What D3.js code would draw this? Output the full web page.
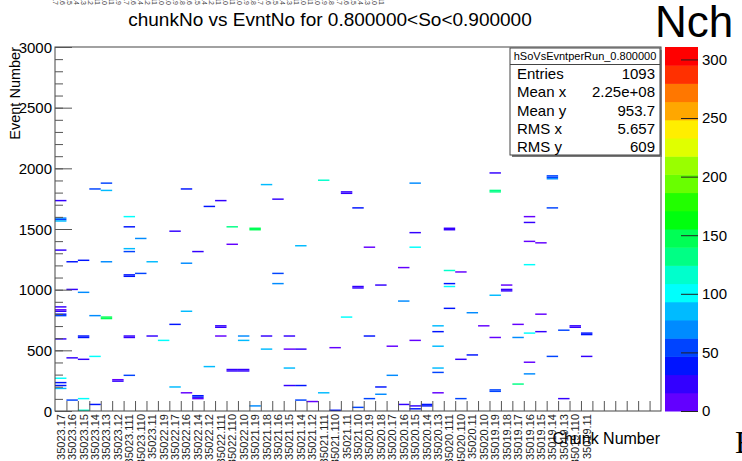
<!DOCTYPE html>
<html>
<head>
<meta charset="utf-8">
<script src="https://cdn.jsdelivr.net/npm/d3@7"></script>
<style>
  body { margin: 0; background: #fff; }
  svg { display: block; font-family: "Liberation Sans", Arial, sans-serif; }
</style>
</head>
<body>
<svg id="chart" width="742" height="461"></svg>
<script>
// x categories (run.chunk), 6 trailing empty bins
const chunkLabels = [
  "35023.17", "35023.16", "35023.15", "35023.14", "35023.13", "35023.12", "35023.111", "35023.110", "35023.11",
  "35022.19", "35022.17", "35022.16", "35022.14", "35022.12", "35022.111", "35022.110", "35022.10",
  "35021.19", "35021.18", "35021.16", "35021.15", "35021.14", "35021.12", "35021.111", "35021.110", "35021.11", "35021.10",
  "35020.19", "35020.18", "35020.17", "35020.16", "35020.15", "35020.14", "35020.13", "35020.111", "35020.110", "35020.11", "35020.10",
  "35019.19", "35019.18", "35019.17", "35019.16", "35019.15", "35019.14", "35019.13", "35019.110", "35019.11",
  "", "", "", "", "", ""
];

// filled cells: [chunk, event number, Nch]
const cells = [
  ["35023.17", 1728, 23], ["35023.17", 1590, 70], ["35023.17", 1578, 54], ["35023.17", 1566, 85], ["35023.17", 1327, 23],
  ["35023.17", 854, 23], ["35023.17", 838, 8], ["35023.17", 821, 23], ["35023.17", 797, 39], ["35023.17", 785, 54],
  ["35023.17", 591, 23], ["35023.17", 264, 101], ["35023.17", 228, 39], ["35023.17", 215, 39], ["35023.17", 190, 85],
  ["35023.16", 1225, 39], ["35023.16", 997, 23], ["35023.16", 434, 23], ["35023.16", 85, 54],
  ["35023.15", 1238, 39], ["35023.15", 975, 70], ["35023.15", 615, 39], ["35023.15", 605, 39], ["35023.15", 420, 23],
  ["35023.15", 104, 101], ["35023.15", 8, 116],
  ["35023.14", 1829, 54], ["35023.14", 791, 70], ["35023.14", 453, 101], ["35023.14", 49, 39],
  ["35023.13", 1881, 54], ["35023.13", 1813, 85], ["35023.13", 1228, 70], ["35023.13", 772, 147], ["35023.13", 760, 147],
  ["35023.12", 256, 8], ["35023.12", 244, 23],
  ["35023.111", 1607, 101], ["35023.111", 1516, 39], ["35023.111", 1340, 85], ["35023.111", 1318, 54],
  ["35023.111", 1118, 39], ["35023.111", 1106, 39], ["35023.111", 618, 23], ["35023.111", 606, 23], ["35023.111", 294, 54],
  ["35023.110", 1426, 70], ["35023.110", 1131, 54],
  ["35023.11", 1225, 85], ["35023.11", 618, 23],
  ["35022.19", 579, 101],
  ["35022.17", 1486, 23], ["35022.17", 714, 39], ["35022.17", 200, 85],
  ["35022.16", 1827, 39], ["35022.16", 1220, 70], ["35022.16", 816, 85], ["35022.16", 146, 8],
  ["35022.14", 1313, 23], ["35022.14", 128, 39], ["35022.14", 118, 39], ["35022.14", 105, 8],
  ["35022.12", 1683, 39], ["35022.12", 365, 85],
  ["35022.111", 1730, 23], ["35022.111", 700, 23], ["35022.111", 688, 23], ["35022.111", 612, 8],
  ["35022.110", 1516, 132], ["35022.110", 1370, 8], ["35022.110", 336, 23], ["35022.110", 324, 23],
  ["35022.10", 615, 70], ["35022.10", 582, 85], ["35022.10", 336, 23], ["35022.10", 324, 23],
  ["35021.19", 1506, 147], ["35021.19", 1494, 147], ["35021.19", 41, 70],
  ["35021.18", 1862, 85], ["35021.18", 618, 23], ["35021.18", 513, 85],
  ["35021.16", 1747, 23], ["35021.16", 1129, 54], ["35021.16", 1052, 70],
  ["35021.15", 612, 23], ["35021.15", 508, 8], ["35021.15", 354, 85], ["35021.15", 214, 23],
  ["35021.14", 1362, 85], ["35021.14", 513, 23], ["35021.14", 206, 39], ["35021.14", 91, 54],
  ["35021.12", 72, 8],
  ["35021.111", 1901, 116], ["35021.111", 151, 85],
  ["35021.110", 522, 8], ["35021.110", 5, 39],
  ["35021.11", 1806, 23], ["35021.11", 1794, 23], ["35021.11", 772, 101],
  ["35021.10", 1675, 39], ["35021.10", 1026, 23], ["35021.10", 1014, 23], ["35021.10", 27, 54],
  ["35020.19", 1354, 8], ["35020.19", 618, 39], ["35020.19", 96, 54],
  ["35020.18", 1036, 23], ["35020.18", 198, 39], ["35020.18", 140, 70],
  ["35020.17", 530, 8], ["35020.17", 294, 70],
  ["35020.16", 1176, 8], ["35020.16", 909, 70], ["35020.16", 49, 23],
  ["35020.15", 1881, 70], ["35020.15", 1475, 23], ["35020.15", 1349, 101], ["35020.15", 579, 8],
  ["35020.15", 36, 23], ["35020.15", 22, 39],
  ["35020.14", 50, 39], ["35020.14", 38, 39],
  ["35020.13", 700, 85], ["35020.13", 648, 39], ["35020.13", 538, 85], ["35020.13", 357, 85], ["35020.13", 316, 54],
  ["35020.13", 151, 8],
  ["35020.111", 1510, 23], ["35020.111", 1495, 23], ["35020.111", 1162, 116], ["35020.111", 1052, 39],
  ["35020.111", 1024, 101], ["35020.111", 851, 39],
  ["35020.110", 1148, 8], ["35020.110", 420, 23], ["35020.110", 96, 54],
  ["35020.11", 813, 70], ["35020.11", 467, 39],
  ["35020.10", 706, 8],
  ["35019.19", 1967, 23], ["35019.19", 1812, 132], ["35019.19", 1800, 132], ["35019.19", 950, 85],
  ["35019.19", 602, 8], ["35019.19", 172, 54], ["35019.19", 160, 54],
  ["35019.18", 1033, 8], ["35019.18", 1004, 23], ["35019.18", 992, 23],
  ["35019.17", 717, 8], ["35019.17", 610, 70], ["35019.17", 220, 132],
  ["35019.16", 1596, 8], ["35019.16", 1555, 23], ["35019.16", 1395, 8], ["35019.16", 1200, 101],
  ["35019.16", 645, 101], ["35019.16", 404, 8], ["35019.16", 302, 70],
  ["35019.15", 1384, 8], ["35019.15", 799, 8], ["35019.15", 651, 23],
  ["35019.14", 1940, 54], ["35019.14", 1920, 54], ["35019.14", 1908, 70], ["35019.14", 1678, 54], ["35019.14", 453, 54],
  ["35019.13", 665, 54], ["35019.13", 101, 23],
  ["35019.110", 698, 23], ["35019.110", 686, 23],
  ["35019.11", 644, 39], ["35019.11", 632, 39], ["35019.11", 453, 23]
];

const yTickValues = [0, 500, 1000, 1500, 2000, 2500, 3000];
const zTickValues = [0, 50, 100, 150, 200, 250, 300];
const statNames = ["Entries", "Mean x", "Mean y", "RMS x", "RMS y"];
const statValues = ["1093", "2.25e+08", "953.7", "5.657", "609"];

const zMax = 310.6;
const yBin = 12;
const nContours = 20;

const frame = { left: 55, right: 661, top: 47, bottom: 411 };
const svg = d3.select("#chart");

// ROOT "pretty" palette, 50 colours, 20 contours
function zColor(z) {
  const k = Math.min(nContours - 1, Math.floor(z / zMax * nContours));
  const idx = Math.floor((k + 0.99) * 50 / nContours);
  return d3.hsl(280 - (idx + 1) * 5.6, 1, 0.5).formatHex();
}

const x = d3.scaleBand()
  .domain(d3.range(chunkLabels.length))
  .range([frame.left, frame.right]);

const y = d3.scaleLinear()
  .domain([0, 3000])
  .range([frame.bottom, frame.top]);

const zScale = d3.scaleLinear()
  .domain([0, zMax])
  .range([frame.bottom, frame.top]);

// clipped labels from the pad above
svg.append("g")
  .selectAll("text")
  .data(chunkLabels.filter(d => d))
  .enter()
  .append("text")
  .attr("transform", (d, i) => "translate(" + (55 + i * 7.1) + ",5) rotate(90)")
  .attr("text-anchor", "end")
  .attr("dy", "0.35em")
  .style("font-size", "7px")
  .style("fill", "#444")
  .text(d => d);

// cells
const cellY = d => Math.floor(d[1] / yBin) * yBin;
svg.append("g")
  .selectAll("rect")
  .data(cells)
  .enter()
  .append("rect")
  .attr("x", d => x(chunkLabels.indexOf(d[0])))
  .attr("width", x.bandwidth())
  .attr("y", d => y(cellY(d) + yBin))
  .attr("height", d => y(cellY(d)) - y(cellY(d) + yBin))
  .attr("fill", d => zColor(d[2]));

// frame
svg.append("rect")
  .attr("x", frame.left)
  .attr("y", frame.top)
  .attr("width", frame.right - frame.left)
  .attr("height", frame.bottom - frame.top)
  .attr("fill", "none")
  .attr("stroke", "#444")
  .attr("stroke-width", 1);

// y axis: major ticks + labels, then minor ticks
const yAxis = svg.append("g")
  .attr("transform", "translate(" + frame.left + ",0)")
  .call(d3.axisLeft(y).tickValues(yTickValues).tickFormat(d3.format("d"))
    .tickSizeInner(-17).tickSizeOuter(0).tickPadding(3));
yAxis.select(".domain").remove();
yAxis.selectAll("text").style("font-size", "15px").style("fill", "#000").attr("dy", "0.35em");
yAxis.selectAll("line").attr("stroke", "#555");

const yMinor = svg.append("g")
  .attr("transform", "translate(" + frame.left + ",0)")
  .call(d3.axisLeft(y).tickValues(d3.range(0, 3001, 100)).tickSizeInner(-8).tickSizeOuter(0).tickFormat(""));
yMinor.select(".domain").remove();
yMinor.selectAll("line").attr("stroke", "#555");

// x axis: ticks at bin edges, labels at bin centres
const xEdges = d3.scaleLinear().domain([0, chunkLabels.length]).range([frame.left, frame.right]);
const xTicks = svg.append("g")
  .attr("transform", "translate(0," + frame.bottom + ")")
  .call(d3.axisBottom(xEdges).tickValues(d3.range(1, chunkLabels.length)).tickSizeInner(-10).tickSizeOuter(0).tickFormat(""));
xTicks.select(".domain").remove();
xTicks.selectAll("line").attr("stroke", "#555");

const xLabels = svg.append("g")
  .attr("transform", "translate(0," + frame.bottom + ")")
  .call(d3.axisBottom(x).tickSize(0).tickFormat(i => chunkLabels[i]));
xLabels.select(".domain").remove();
xLabels.selectAll("text")
  .attr("transform", "rotate(-90)")
  .attr("text-anchor", "end")
  .attr("x", -3)
  .attr("y", 4)
  .attr("dy", 0)
  .style("font-size", "11px")
  .style("fill", "#222");

// colour palette bar
const bands = d3.range(nContours);
svg.append("g")
  .selectAll("rect")
  .data(bands)
  .enter()
  .append("rect")
  .attr("x", 665)
  .attr("width", 33)
  .attr("y", k => zScale((k + 1) * zMax / nContours))
  .attr("height", k => zScale(k * zMax / nContours) - zScale((k + 1) * zMax / nContours) + 0.5)
  .attr("fill", k => zColor((k + 0.5) * zMax / nContours));

const zAxis = svg.append("g")
  .attr("transform", "translate(698,0)")
  .call(d3.axisRight(zScale).tickValues(zTickValues).tickSizeInner(-17).tickSizeOuter(0).tickPadding(4));
zAxis.select(".domain").remove();
zAxis.selectAll("line").attr("stroke", "#222");
zAxis.selectAll("text").style("font-size", "15px").style("fill", "#000");

// stats box
const stats = svg.append("g");
stats.append("rect").attr("x", 512).attr("y", 50).attr("width", 150).attr("height", 107).attr("fill", "#777");
stats.append("rect").attr("x", 510).attr("y", 48).attr("width", 150).attr("height", 107)
  .attr("fill", "#fff").attr("stroke", "#444");
stats.append("line").attr("x1", 510).attr("x2", 660).attr("y1", 64.5).attr("y2", 64.5).attr("stroke", "#444");
stats.append("text").attr("x", 585).attr("y", 60).attr("text-anchor", "middle")
  .style("font-size", "11px").text("hSoVsEvntperRun_0.800000");
stats.selectAll(".sname").data(statNames).enter().append("text")
  .attr("x", 517).attr("y", (d, i) => 79 + i * 18.3)
  .style("font-size", "15px").text(d => d);
stats.selectAll(".sval").data(statValues).enter().append("text")
  .attr("x", 655).attr("y", (d, i) => 79 + i * 18.3).attr("text-anchor", "end")
  .style("font-size", "15px").text(d => d);

// titles
svg.append("text")
  .attr("x", 330).attr("y", 26)
  .attr("text-anchor", "middle")
  .style("font-size", "19px")
  .text("chunkNo vs EvntNo for 0.800000<So<0.900000");

svg.append("text")
  .attr("x", 655).attr("y", 37)
  .style("font-size", "44px")
  .text("Nch");

svg.append("text")
  .attr("transform", "translate(20," + frame.top + ") rotate(-90)")
  .attr("text-anchor", "end")
  .style("font-size", "14.5px")
  .text("Event Number");

svg.append("text")
  .attr("x", 660).attr("y", 444)
  .attr("text-anchor", "end")
  .style("font-size", "16px")
  .text("Chunk Number");

svg.append("text")
  .attr("x", 735).attr("y", 453)
  .style("font-family", "'Liberation Serif', serif")
  .style("font-size", "32px")
  .text("E");
</script>
</body>
</html>
